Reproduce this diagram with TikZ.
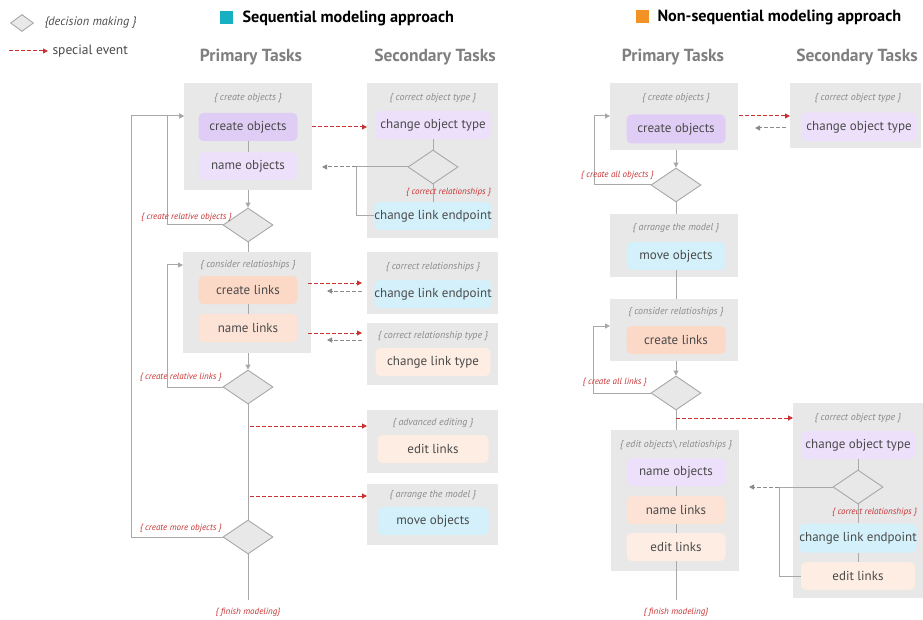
\documentclass[tikz,border=0pt]{standalone}
\usepackage{fontspec}
\setmainfont{PT Sans}
\usetikzlibrary{shapes.geometric, arrows.meta, positioning}

\definecolor{grpgray}{HTML}{E8E8E8}
\definecolor{linegray}{HTML}{A8A8A8}
\definecolor{txtgray}{HTML}{4A4A4A}
\definecolor{notegray}{HTML}{8A8A8A}
\definecolor{hdrgray}{HTML}{7F7F7F}
\definecolor{evred}{HTML}{C83232}
\definecolor{objdark}{HTML}{E0CDF5}
\definecolor{objlight}{HTML}{EDE0FA}
\definecolor{linkdark}{HTML}{FCD8C6}
\definecolor{linkmid}{HTML}{FDE2D6}
\definecolor{linklight}{HTML}{FDEDE2}
\definecolor{movecyan}{HTML}{D4F1FB}
\definecolor{seqteal}{HTML}{17AFC2}
\definecolor{nonseqorange}{HTML}{F39325}

\begin{document}
\begin{tikzpicture}[x=1pt,y=-1pt,
  grp/.style={fill=grpgray,anchor=north west,inner sep=0pt},
  task/.style={rounded corners=5pt,inner sep=0pt,minimum height=28pt,
    font=\fontsize{13}{15}\selectfont,text=txtgray},
  ptask/.style={task,minimum width=99pt},
  stask/.style={task,minimum width=115pt},
  note/.style={font=\itshape\fontsize{10}{12}\selectfont,text=notegray},
  redlabel/.style={font=\itshape\fontsize{9}{11}\selectfont,text=evred,inner sep=0pt},
  header/.style={font=\bfseries\fontsize{17.5}{20}\selectfont,text=hdrgray},
  decision/.style={diamond,fill=grpgray,draw=linegray,line width=0.9pt,
    minimum width=50pt,minimum height=34pt,inner sep=0pt},
  flow/.style={draw=linegray,line width=1pt},
  flowarrow/.style={flow,-{Triangle[length=5pt,width=5pt]}},
  event/.style={draw=evred,line width=1pt,dash pattern=on 4pt off 2pt,
    -{Triangle[length=5pt,width=5pt]}},
  back/.style={draw=notegray,line width=1pt,dash pattern=on 4pt off 2pt,
    -{Triangle[length=5pt,width=5pt]}}]
\useasboundingbox (0,0) rectangle (923,620);

% legend
\node[decision,minimum width=23pt,minimum height=17pt] (legDia) at (22,23) {};
\node[anchor=west,font=\itshape\fontsize{12.3}{14}\selectfont,text=txtgray] (legDiaTxt) at (41,23) {\{decision making \}};
\coordinate (legA) at (9,51);
\coordinate (legB) at (48,51);
\draw[event] (legA) -- (legB);
\node[anchor=west,font=\fontsize{13.5}{15}\selectfont,text=txtgray] (legEvTxt) at (49,51) {special event};

\fill[seqteal] (220,11) rectangle (233,24);
\node[anchor=west,font=\bfseries\fontsize{16.2}{19}\selectfont] (seqTitle) at (239,18) {Sequential modeling approach};
\fill[nonseqorange] (636,10) rectangle (649,23);
\node[anchor=west,font=\bfseries\fontsize{16.2}{19}\selectfont] (nonseqTitle) at (654,17) {Non-sequential modeling approach};

\node[header] (primL) at (251,57) {Primary Tasks};
\node[header] (secL) at (435,57) {Secondary Tasks};
\node[header] (primR) at (673,57) {Primary Tasks};
\node[header] (secR) at (857,57) {Secondary Tasks};

%% sequential approach
\node[grp,minimum width=128pt,minimum height=107pt] (gCreate) at (184,83) {};
\node[note] (tiCreate) at (248,98) {\{ create objects \}};
\node[ptask,fill=objdark] (tCreateObj) at (248,127) {create objects};
\node[ptask,fill=objlight] (tNameObj) at (248,166) {name objects};
\node[decision] (dRel) at (248,225) {};

\node[grp,minimum width=128pt,minimum height=101pt] (gRel) at (183,252) {};
\node[note] (tiRel) at (248,265) {\{ consider relatioships \}};
\node[ptask,fill=linkdark] (tCreateLinks) at (248,290) {create links};
\node[ptask,fill=linkmid] (tNameLinks) at (248,328) {name links};
\node[decision] (dLinks) at (248,387) {};
\node[decision] (dMore) at (248,537) {};
\coordinate (finishL) at (248,600);
\node[redlabel] (lbFinishL) at (248,612) {\{ finish modeling\}};

\node[grp,minimum width=131pt,minimum height=155pt] (sObjType) at (367,83) {};
\node[note] (tiObjType) at (433,98) {\{ correct object type \}};
\node[stask,fill=objlight] (tChangeType) at (433,125) {change object type};
\node[decision] (dCorrect) at (433,167) {};
\node[redlabel,anchor=west] (lbCorrect) at (406,192) {\{ correct relationships \}};
\node[stask,fill=movecyan] (tEndpoint1) at (433,216) {change link endpoint};

\node[grp,minimum width=131pt,minimum height=62pt] (sRel) at (367,252) {};
\node[note] (tiRel2) at (433,267) {\{ correct relationships \}};
\node[stask,fill=movecyan] (tEndpoint2) at (433,294) {change link endpoint};

\node[grp,minimum width=131pt,minimum height=62pt] (sRelType) at (367,323) {};
\node[note] (tiRelType) at (433,336) {\{ correct relationship type \}};
\node[stask,fill=linklight] (tLinkType) at (433,362) {change link type};

\node[grp,minimum width=131pt,minimum height=63pt] (sAdv) at (367,410) {};
\node[note] (tiAdv) at (433,423) {\{ advanced editing \}};
\node[task,minimum width=111pt,fill=linklight] (tEditLinks) at (433,449) {edit links};

\node[grp,minimum width=131pt,minimum height=61pt] (sArrange) at (367,484) {};
\node[note] (tiArrange) at (433,495) {\{ arrange the model \}};
\node[task,minimum width=111pt,fill=movecyan] (tMove) at (433,521) {move objects};

% flow
\draw[flow] (tCreateObj) -- (tNameObj);
\draw[flowarrow] (gCreate.south -| tNameObj) -- (dRel.north);
\draw[flow] (dRel.south) -- (gRel.north -| dRel);
\draw[flow] (tCreateLinks) -- (tNameLinks);
\draw[flowarrow] (gRel.south -| tNameLinks) -- (dLinks.north);
\draw[flow] (dLinks.south) -- (dMore.north);
\draw[flow] (dMore.south) -- (finishL);

% loops
\coordinate (inL1) at (184,116);
\coordinate (loopA) at (167,116);
\coordinate (outerA) at (131,116);
\coordinate (inL2) at (183,265);
\coordinate (loopB) at (167,265);
\draw[flowarrow] (dRel.west) -| (loopA) -- (inL1);
\draw[flowarrow] (dMore.west) -| (outerA) -- (inL1);
\draw[flowarrow] (dLinks.west) -| (loopB) -- (inL2);
\node[redlabel,anchor=east] (lbRelObj) at (232,217) {\{ create relative objects \}};
\node[redlabel,anchor=east] (lbRelLinks) at (222,377) {\{ create relative links \}};
\node[redlabel,anchor=east] (lbMoreObj) at (222,528) {\{ create more objects \}};

% secondary loop
\coordinate (jnc1) at (356,167);
\coordinate (backTip1) at (322,167);
\draw[flow] (tChangeType) -- (dCorrect.north);
\draw[flow] (dCorrect.south) -- (tEndpoint1.north);
\draw[flow] (dCorrect.west) -- (jnc1);
\draw[flow] (tEndpoint1.west) -| (jnc1);
\draw[back] (jnc1) -- (backTip1);

% special events
\draw[event] (gCreate.east |- tCreateObj) -- (sObjType.west |- tCreateObj);
\coordinate (evRel) at (308,283);
\coordinate (bkRel) at (362,291);
\draw[event] (evRel) -- (evRel -| bkRel);
\draw[back] (bkRel) -- ++(-35,0);
\coordinate (evType) at (308,333);
\coordinate (bkType) at (362,340);
\draw[event] (evType) -- (evType -| bkType);
\draw[back] (bkType) -- ++(-35,0);
\coordinate (evAdv) at (250,426);
\draw[event] (evAdv) -- (evAdv -| sAdv.west);
\coordinate (evArr) at (250,496);
\draw[event] (evArr) -- (evArr -| sArrange.west);

%% non-sequential approach
\node[grp,minimum width=128pt,minimum height=67pt] (gR1) at (610,83) {};
\node[note] (tiR1) at (676,98) {\{ create objects \}};
\node[ptask,fill=objdark,minimum height=29pt] (tCreateObjR) at (676,129) {create objects};
\node[decision] (dAllObj) at (676,185) {};

\node[grp,minimum width=128pt,minimum height=63pt] (gR2) at (610,214) {};
\node[note] (tiR2) at (676,228) {\{ arrange the model \}};
\node[ptask,fill=movecyan] (tMoveR) at (676,256) {move objects};

\node[grp,minimum width=128pt,minimum height=62pt] (gR3) at (610,299) {};
\node[note] (tiR3) at (676,312) {\{ consider relatioships \}};
\node[ptask,fill=linkdark] (tCreateLinksR) at (676,340) {create links};
\node[decision] (dAllLinks) at (676,393) {};

\node[grp,minimum width=128pt,minimum height=141pt] (gR4) at (611,430) {};
\node[note] (tiR4) at (676,445) {\{ edit objects\textbackslash\ relatioships \}};
\node[ptask,fill=objlight] (tNameObjR) at (676,472) {name objects};
\node[ptask,fill=linkmid] (tNameLinksR) at (676,510) {name links};
\node[ptask,fill=linklight] (tEditLinksR) at (676,547) {edit links};
\coordinate (finishR) at (676,600);
\node[redlabel] (lbFinishR) at (676,612) {\{ finish modeling\}};

\node[grp,minimum width=131pt,minimum height=65pt] (sR1) at (790,83) {};
\node[note] (tiR1s) at (858,98) {\{ correct object type \}};
\node[stask,fill=objlight,minimum height=29pt] (tChangeTypeR) at (859,127) {change object type};

\node[grp,minimum width=130pt,minimum height=195pt] (sR2) at (793,403) {};
\node[note] (tiR2s) at (858,418) {\{ correct object type \}};
\node[stask,fill=objlight,minimum width=114pt] (tChangeTypeR2) at (858,445) {change object type};
\node[decision] (dCorrectR) at (858,487) {};
\node[redlabel,anchor=west] (lbCorrectR) at (832,512) {\{ correct relationships \}};
\node[stask,fill=movecyan,minimum width=114pt,minimum height=29pt] (tEndpointR) at (858,538) {change link endpoint};
\node[stask,fill=linklight,minimum width=114pt] (tEditLinksR2) at (858,576) {edit links};

% flow
\draw[flowarrow] (gR1.south -| tCreateObjR) -- (dAllObj.north);
\draw[flow] (dAllObj.south) -- (gR2.north -| dAllObj);
\draw[flow] (tMoveR.south) -- (gR3.north -| tMoveR);
\draw[flowarrow] (gR3.south -| tCreateLinksR) -- (dAllLinks.north);
\draw[flow] (dAllLinks.south) -- (gR4.north -| dAllLinks);
\draw[flow] (tNameObjR) -- (tNameLinksR);
\draw[flow] (tNameLinksR) -- (tEditLinksR);
\draw[flow] (tEditLinksR.south) -- (finishR);

% loops
\coordinate (loopC) at (594,116);
\coordinate (inR1) at (610,116);
\coordinate (loopD) at (593,326);
\coordinate (inR3) at (610,326);
\draw[flowarrow] (dAllObj.west) -| (loopC) -- (inR1);
\draw[flowarrow] (dAllLinks.west) -| (loopD) -- (inR3);
\node[redlabel,anchor=east] (lbAllObj) at (654,175) {\{ create all objects \}};
\node[redlabel,anchor=east] (lbAllLinks) at (647,382) {\{ create all links \}};

% secondary loop
\coordinate (jnc2) at (779,487);
\coordinate (backTip2) at (749,487);
\draw[flow] (tChangeTypeR2) -- (dCorrectR.north);
\draw[flow] (dCorrectR.south) -- (tEndpointR.north);
\draw[flow] (tEndpointR) -- (tEditLinksR2);
\draw[flow] (dCorrectR.west) -- (jnc2);
\draw[flow] (tEditLinksR2.west) -| (jnc2);
\draw[back] (jnc2) -- (backTip2);

% special events
\coordinate (evR1) at (739,116);
\draw[event] (evR1) -- (evR1 -| sR1.west);
\coordinate (bkR1) at (786,128);
\draw[back] (bkR1) -- ++(-31,0);
\coordinate (evR4) at (676,418);
\draw[event] (evR4) -- (evR4 -| sR2.west);
\end{tikzpicture}
\end{document}
